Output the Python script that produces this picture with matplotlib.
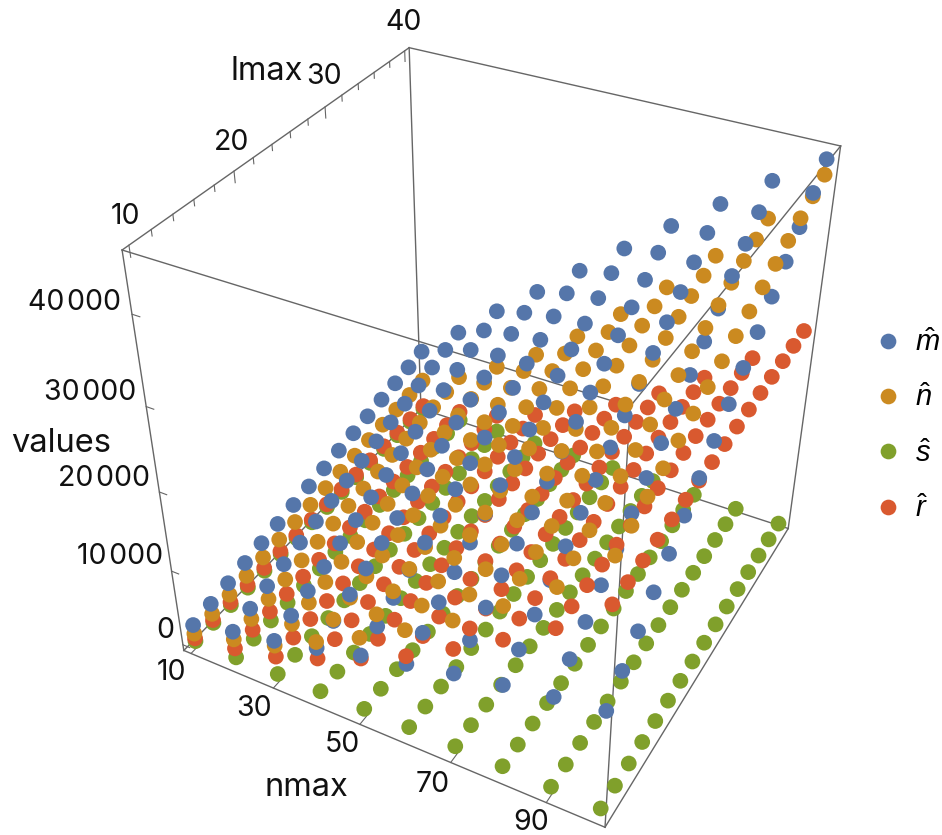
import numpy as np
import matplotlib
matplotlib.use("Agg")
import matplotlib.pyplot as plt
from matplotlib.lines import Line2D

plt.rcParams['font.family'] = ['Inter', 'DejaVu Sans']
plt.rcParams['mathtext.fontset'] = 'custom'
plt.rcParams['mathtext.it'] = 'Liberation Sans:italic'
plt.rcParams['mathtext.rm'] = 'Liberation Sans'

W, H = 942, 835

nmax = [10, 20, 30, 40, 50, 60, 70, 80, 90, 100]
lmax = [10, 12, 14, 16, 18, 20, 22, 24, 26, 28, 30, 32, 34, 36, 38, 40]

# rows: nmax, columns: lmax
m_hat = [
 [2400,2810,3210,3620,4030,4430,4840,5250,5650,6060,6470,6870,7280,7690,8090,8500],
 [3800,4400,5000,5600,6200,6800,7400,8000,8600,9200,9800,10400,11000,11600,12200,12800],
 [4900,5730,6550,7380,8210,9030,9860,10690,11510,12340,13170,13990,14820,15650,16470,17300],
 [6300,7310,8310,9320,10330,11330,12340,13350,14350,15360,16370,17370,18380,19390,20390,21400],
 [7700,8890,10090,11280,12470,13670,14860,16050,17250,18440,19630,20830,22020,23210,24410,25600],
 [9000,10390,11770,13160,14550,15930,17320,18710,20090,21480,22870,24250,25640,27030,28410,29800],
 [10200,11780,13360,14940,16520,18100,19680,21260,22840,24420,26000,27580,29160,30740,32320,33900],
 [11200,12970,14750,16520,18290,20070,21840,23610,25390,27160,28930,30710,32480,34250,36030,37800],
 [12200,14170,16130,18100,20070,22030,24000,25970,27930,29900,31870,33830,35800,37770,39730,41700],
 [13000,15150,17310,19460,21610,23770,25920,28070,30230,32380,34530,36690,38840,40990,43150,45300],
]
n_hat = [
 [1200,1410,1610,1820,2030,2230,2440,2650,2850,3060,3270,3470,3680,3890,4090,4300],
 [2750,3000,3250,3500,3750,4000,4250,4500,4750,5000,5250,5500,5750,6000,6250,6500],
 [4250,4610,4970,5330,5690,6050,6410,6770,7130,7490,7850,8210,8570,8930,9290,9650],
 [7100,7490,7890,8280,8670,9070,9460,9850,10250,10640,11030,11430,11820,12210,12610,13000],
 [10000,10470,10950,11420,11890,12370,12840,13310,13790,14260,14730,15210,15680,16150,16630,17100],
 [13300,13850,14410,14960,15510,16070,16620,17170,17730,18280,18830,19390,19940,20490,21050,21600],
 [16800,17450,18090,18740,19390,20030,20680,21330,21970,22620,23270,23910,24560,25210,25850,26500],
 [20800,21530,22270,23000,23730,24470,25200,25930,26670,27400,28130,28870,29600,30330,31070,31800],
 [25200,26020,26840,27660,28480,29300,30120,30940,31760,32580,33400,34220,35040,35860,36680,37500],
 [30800,31660,32510,33370,34230,35080,35940,36800,37650,38510,39370,40220,41080,41940,42790,43650],
]
s_hat = [
 [150,150,145,145,140,140,135,135,130,130,125,125,120,120,115,110],
 [250,245,240,235,230,225,220,215,210,205,200,195,190,185,180,175],
 [350,345,340,335,330,325,320,315,310,305,300,295,290,285,280,275],
 [420,415,410,405,400,395,390,385,380,375,370,365,360,355,350,345],
 [500,495,490,485,480,470,465,460,450,445,440,430,425,420,410,400],
 [550,545,540,530,525,520,510,505,500,490,485,480,470,465,460,450],
 [550,545,540,530,525,520,510,505,500,490,485,480,470,465,460,450],
 [500,495,490,485,480,470,465,460,450,445,440,430,425,420,410,400],
 [450,445,440,435,430,420,415,410,400,395,390,380,375,370,360,350],
 [300,295,290,285,280,275,270,265,260,255,250,245,240,235,230,225],
]
r_hat = [
 [550,550,550,540,540,530,530,530,520,520,520,510,510,510,500,500],
 [1500,1490,1490,1480,1470,1470,1460,1450,1450,1440,1430,1430,1420,1410,1410,1400],
 [2750,2740,2730,2720,2710,2700,2690,2680,2670,2660,2650,2640,2630,2620,2610,2600],
 [4900,4870,4850,4820,4790,4770,4740,4710,4690,4660,4630,4610,4580,4550,4530,4500],
 [7300,7270,7230,7200,7170,7130,7100,7070,7030,7000,6970,6930,6900,6870,6830,6800],
 [10000,9970,9930,9900,9870,9830,9800,9770,9730,9700,9670,9630,9600,9570,9530,9500],
 [13300,13270,13230,13200,13170,13130,13100,13070,13030,13000,12970,12930,12900,12870,12830,12800],
 [16800,16790,16770,16760,16750,16730,16720,16710,16690,16680,16670,16650,16640,16630,16610,16600],
 [20500,20520,20540,20560,20580,20600,20620,20640,20660,20680,20700,20720,20740,20760,20780,20800],
 [25500,25520,25540,25560,25580,25600,25620,25640,25660,25680,25700,25720,25740,25760,25780,25800],
]

series = [m_hat, n_hat, s_hat, r_hat]
labels = [r'$\hat{m}$', r'$\hat{n}$', r'$\hat{s}$', r'$\hat{r}$']
colors = ['#5576AA', '#CB8A20', '#80A02B', '#D9592F']

nlim = (8.2, 101.8)
llim = (9.4, 40.6)
zlim = (-800.0, 46500.0)

# box corners in the reference and where they appear there, in pixels
corners = [
    ((nlim[0], llim[0], zlim[0]), (184, 651)),
    ((nlim[1], llim[0], zlim[0]), (605, 827)),
    ((nlim[1], llim[1], zlim[0]), (788, 529)),
    ((nlim[0], llim[1], zlim[0]), (421, 408)),
    ((nlim[0], llim[0], zlim[1]), (122, 250)),
    ((nlim[1], llim[0], zlim[1]), (630, 406)),
    ((nlim[1], llim[1], zlim[1]), (841, 146)),
    ((nlim[0], llim[1], zlim[1]), (409, 48)),
]

fig = plt.figure(figsize=(W / 100, H / 100), dpi=100)
ax = fig.add_axes([0, -(W - H) / 2 / H, 1, W / H], projection='3d',
                  proj_type='ortho', computed_zorder=False)
ax.set_axis_off()
ax.patch.set_visible(False)
ax.set_xlim(*nlim)
ax.set_ylim(*llim)
ax.set_zlim(*zlim)
ax.apply_aspect()


def camera_matrix():
    """Fit the reference's perspective view to the box corners."""
    S = np.array([[1 / (nlim[1] - nlim[0]), 0, 0, -nlim[0] / (nlim[1] - nlim[0])],
                  [0, 1 / (llim[1] - llim[0]), 0, -llim[0] / (llim[1] - llim[0])],
                  [0, 0, 1 / (zlim[1] - zlim[0]), -zlim[0] / (zlim[1] - zlim[0])],
                  [0, 0, 0, 1]])
    rows = []
    for xyz, (u, v) in corners:
        p = S @ np.array([*xyz, 1.0])
        u, v = u / W, v / H
        rows.append([*p, 0, 0, 0, 0, *(-u * p)])
        rows.append([0, 0, 0, 0, *p, *(-v * p)])
    P = np.linalg.svd(np.array(rows))[2][-1].reshape(3, 4)
    if P[2, 3] < 0:
        P = -P
    P = P / P[2, 3]
    to_px = np.array([[W, 0, 0], [0, -H, H], [0, 0, 1.0]])
    to_ax = ax.transData.inverted().get_matrix()
    Q = to_ax @ to_px @ P @ S
    return np.array([Q[0], Q[1], [0, 0, 0, -1.0], Q[2]])


M = camera_matrix()
ax.get_proj = lambda: M

# box
edge = dict(color='#666666', lw=1.0, zorder=1)
pairs = [(0, 1), (1, 2), (2, 3), (3, 0), (4, 5), (5, 6), (6, 7), (7, 4),
         (0, 4), (1, 5), (2, 6), (3, 7)]
for a, b in pairs:
    ax.plot(*zip(corners[a][0], corners[b][0]), **edge)

# ticks
tick = dict(color='#666666', lw=0.8, zorder=1)
for n in [10, 30, 50, 70, 90]:
    ax.plot([n, n], [llim[0], llim[0] + 1.0], [zlim[0], zlim[0]], **tick)
for l in range(10, 41, 2):
    d = 1200 if l % 10 == 0 else 650
    ax.plot([nlim[0], nlim[0]], [l, l], [zlim[1], zlim[1] - d], **tick)
for z in [0, 10000, 20000, 30000, 40000]:
    ax.plot([nlim[0], nlim[0] + 1.7], [llim[0], llim[0]], [z, z], **tick)

# points: one collection so that depth sorting runs across the series
xs = np.tile(np.repeat(nmax, len(lmax)), len(series))
ys = np.tile(np.tile(lmax, len(nmax)), len(series))
zs = np.concatenate([np.ravel(s) for s in series])
cs = np.repeat(colors, len(nmax) * len(lmax))
ax.scatter(xs, ys, zs, c=list(cs), s=128, depthshade=False, linewidths=0, zorder=2)
ax.set_xlim(*nlim)
ax.set_ylim(*llim)
ax.set_zlim(*zlim)


def label(px, py, text, ha='center', size=20.5):
    fig.text(px / W, 1 - py / H, text, ha=ha, va='center', fontsize=size, color='#111111')


for px, py, t in [(125, 217, '10'), (232, 142, '20'), (324, 77, '30'), (404, 23, '40'),
                  (171, 673, '10'), (254, 708, '30'), (342, 745, '50'), (433, 785, '70'),
                  (531, 823, '90')]:
    label(px, py, t)
for px, py, t in [(267, 72, 'lmax'), (306, 787, 'nmax'), (61, 443, 'values')]:
    label(px, py, t, size=23.5)
for px, py, t in [(121, 302, '40\u200a000'), (136, 393, '30\u200a000'), (150, 478, '20\u200a000'),
                  (163, 557, '10\u200a000'), (174, 630, '0')]:
    label(px, py, t, ha='right')

handles = [Line2D([], [], ls='none', marker='o', ms=11.3, mew=0, color=c) for c in colors]
fig.legend(handles, labels, loc='center left', bbox_to_anchor=(873 / W, 1 - 426 / H),
           frameon=False, fontsize=21, handlelength=1.0, handletextpad=0.45,
           labelspacing=0.95, borderpad=0, borderaxespad=0)

fig.savefig('out.png', dpi=100)
